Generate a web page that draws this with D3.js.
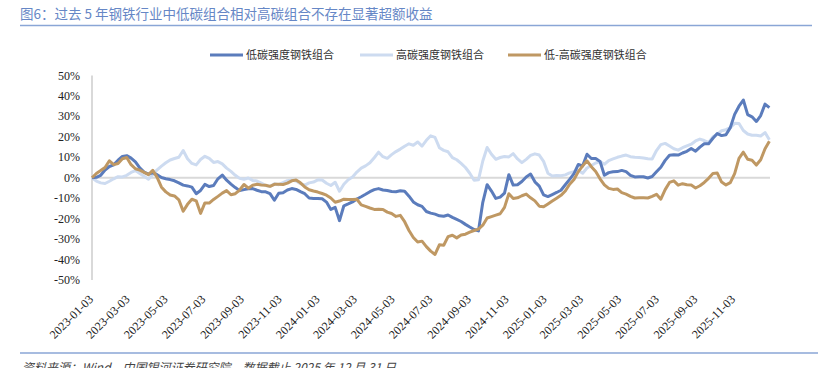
<!DOCTYPE html>
<html>
<head>
<meta charset="utf-8">
<script src="https://cdn.jsdelivr.net/npm/d3@7"></script>
<style>
  html, body { margin: 0; padding: 0; background: #fff; }
  svg { display: block; }
</style>
</head>
<body>
<div id="chart"></div>
<script>
// weekly readings, first point 2023-01-03, 7 days apart (percent)
var startDate = "2023-01-03";
var endDate = "2025-12-31";

var seriesNames = ["低碳强度钢铁组合", "高碳强度钢铁组合", "低-高碳强度钢铁组合"];
var seriesColors = ["#5b7cbc", "#cddbf0", "#bf9863"];

var lowCarbon = [
  0, 0.2, 1.2, 3.8, 5.5, 6.3, 8.6, 10.4, 10.8, 9.6,
  7.8, 4.8, 2.8, 1.8, 2.4, 1.5, 0.1, -0.5, -0.9, -1.5,
  -2.5, -3.6, -4.0, -4.6, -7.8, -6.2, -3.2, -4.3, -3.8, -0.5,
  1.3, -1.2, -3.1, -4.8, -6.3, -5.8, -5.4, -5.3, -6.1, -6.8,
  -6.9, -7.8, -11.0, -7.6, -7.3, -6.0, -5.3, -5.7, -6.8, -7.8,
  -9.9, -10.1, -10.1, -10.3, -11.9, -15.5, -14.5, -21.0, -13.7, -12.8,
  -11.8, -10.4, -9.3, -8.1, -6.8, -5.8, -5.3, -6.0, -6.2, -6.7,
  -6.8, -6.4, -6.6, -9.0, -11.8, -13.2, -14.0, -16.5, -17.3, -17.8,
  -18.6, -18.8, -18.2, -19.4, -20.4, -21.4, -22.8, -24.1, -25.3, -26.0,
  -12.0, -3.4, -6.5, -10.1, -9.5, -7.5, 1.5, -3.6, -3.4, -1.8,
  0.4, 1.8, -2.0, -4.1, -8.4, -9.2, -8.2, -7.2, -6.1, -3.4,
  -0.8, 2.0, 6.5, 5.8, 11.5, 9.4, 9.4, 8.0, 1.2, 2.5,
  2.9, 3.0, 3.6, 3.0, 1.2, 0.4, 0.5, 0.5, -0.1, 0.6,
  2.9, 5.1, 8.5, 11.0, 11.2, 11.1, 12.1, 12.9, 14.3, 13.0,
  15.0, 16.6, 16.6, 19.3, 21.6, 20.6, 21.0, 24.5, 31.0, 35.0,
  38.0, 30.9, 29.8, 27.5, 30.4, 36.0, 34.3
];

var highCarbon = [
  0, -1.6, -2.5, -2.8, -1.7, -0.5, 0.5, 0.4, 1.2, 2.6,
  3.5, 2.1, 0.7, -0.7, 1.5, 3.9, 5.7, 7.3, 8.7, 9.4,
  10.0, 13.3, 9.3, 7.0, 6.3, 8.9, 10.5, 9.5, 7.5, 7.9,
  6.8, 4.7, 3.1, 1.2, -0.3, -0.7, -0.1, -1.3, -1.6, -2.6,
  -3.8, -4.3, -2.9, -3.4, -2.4, -1.4, -1.1, -1.6, -2.9, -3.6,
  -2.5, -2.1, -1.0, -1.1, -2.7, -3.8, -2.2, -6.6, -3.2, -1.0,
  0.4, 2.8, 4.7, 5.8, 7.3, 9.8, 12.5, 10.3, 9.5, 11.3,
  12.8, 14.0, 15.4, 16.6, 15.9, 17.5, 15.5, 18.3, 20.5, 19.7,
  14.7, 13.4, 12.7, 9.8, 8.8, 7.0, 5.0, 2.2, -1.2, -1.0,
  8.2, 14.8, 11.5, 9.0, 9.9, 10.4, 10.2, 11.8, 9.2, 7.4,
  9.0, 10.9, 11.7, 11.1, 8.0, 2.2, 0.9, 1.1, 1.0, 1.4,
  2.4, 3.0, 3.6, 2.2, 4.8, 6.0, 7.2, 7.9, 6.6, 8.4,
  9.2, 10.0, 10.6, 11.1, 10.3, 10.0, 9.9, 9.7, 9.3, 9.2,
  13.3, 16.2, 16.8, 15.5, 14.2, 13.5, 14.7, 15.6, 16.4, 18.0,
  18.9, 18.2, 17.3, 20.0, 21.3, 23.0, 23.5, 24.5, 26.6, 26.5,
  23.1, 21.4, 20.8, 20.8, 20.4, 22.1, 18.6
];

var lowMinusHigh = [
  0, 2.1, 3.5, 5.0, 8.3, 6.4, 7.0, 9.3, 9.9, 6.4,
  4.4, 3.7, 2.6, 1.5, 3.6, 0.2, -4.6, -6.9, -8.4, -8.9,
  -10.8, -16.4, -13.0, -10.5, -11.3, -17.4, -12.3, -12.4, -10.6, -9.1,
  -7.5, -6.3, -8.3, -7.8, -6.0, -3.3, -5.1, -3.7, -3.2, -3.5,
  -3.7, -4.2, -3.2, -3.2, -3.3, -2.6, -1.5, -1.1, -2.5, -4.5,
  -5.9, -6.5, -7.0, -7.7, -8.5, -9.9, -12.0, -11.4, -10.5, -10.6,
  -10.6, -10.5, -13.3, -14.0, -14.8, -15.5, -15.4, -15.5, -16.8, -17.5,
  -18.9, -18.4, -21.5, -25.8, -29.2, -31.4, -31.0, -33.7, -35.9, -37.5,
  -32.8, -33.0, -28.8, -28.1, -29.4, -28.0, -27.6, -26.6, -25.8, -25.1,
  -23.2, -19.7, -19.0, -18.3, -17.6, -14.5, -7.8, -10.1, -9.8, -8.8,
  -8.0, -9.8, -11.3, -13.9, -14.2, -12.8, -11.4, -10.0, -8.6, -6.5,
  -3.2, -0.9, 3.0, 5.8, 8.3, 5.4, 3.1, -0.5, -3.5, -5.2,
  -5.7, -5.5, -7.3, -8.0, -9.1, -9.9, -9.8, -9.8, -9.9, -9.1,
  -8.1, -10.5, -5.8, -2.3, -1.5, -3.6, -2.9, -3.4, -3.6, -5.0,
  -3.9, -2.3, -0.3, 2.1, 2.3, -2.1, -3.5, -2.4, 2.0, 9.5,
  12.5, 9.0, 8.6, 6.2, 8.8, 14.2, 17.8
];

var xTickLabels = [
  "2023-01-03", "2023-03-03", "2023-05-03", "2023-07-03", "2023-09-03", "2023-11-03",
  "2024-01-03", "2024-03-03", "2024-05-03", "2024-07-03", "2024-09-03", "2024-11-03",
  "2025-01-03", "2025-03-03", "2025-05-03", "2025-07-03", "2025-09-03", "2025-11-03"
];
var yTicks = [50, 40, 30, 20, 10, 0, -10, -20, -30, -40, -50];

var width = 818, height = 368;
var plot = {left: 92, right: 770, top: 75.5, bottom: 280};
var parse = d3.timeParse("%Y-%m-%d");
var t0 = parse(startDate);

var dates = lowCarbon.map(function (d, i) {
  return d3.timeDay.offset(t0, i * 7);
});

var svg = d3.select("#chart").append("svg")
  .attr("width", width)
  .attr("height", height)
  .attr("viewBox", [0, 0, width, height]);

var x = d3.scaleTime()
  .domain([t0, parse(endDate)])
  .range([plot.left, plot.right]);

var y = d3.scaleLinear()
  .domain([-50, 50])
  .range([plot.bottom, plot.top]);

// title + rules
svg.append("text")
  .attr("x", 20)
  .attr("y", 19)
  .attr("font-family", "'Noto Sans CJK SC', sans-serif")
  .attr("font-size", 13.5)
  .attr("fill", "#6687c6")
  .text("图6：过去 5 年钢铁行业中低碳组合相对高碳组合不存在显著超额收益");

svg.append("line")
  .attr("x1", 20).attr("x2", 812)
  .attr("y1", 25.5).attr("y2", 25.5)
  .attr("stroke", "#8aa6d6")
  .attr("stroke-width", 1.5);

svg.append("line")
  .attr("x1", 20).attr("x2", 818)
  .attr("y1", 353).attr("y2", 353)
  .attr("stroke", "#8aa6d6")
  .attr("stroke-width", 1.5);

// source note sits on the bottom edge, partly cut like the original
svg.append("text")
  .attr("x", 22)
  .attr("y", 372)
  .attr("font-family", "'Noto Sans CJK SC', sans-serif")
  .attr("font-size", 12)
  .attr("font-style", "italic")
  .attr("fill", "#444")
  .text("资料来源：Wind，中国银河证券研究院，数据截止 2025 年 12 月 31 日");

// legend
var legendX = [210, 360, 508];
var legend = svg.append("g").selectAll("g")
  .data(seriesNames)
  .join("g")
  .attr("transform", function (d, i) {
    return "translate(" + legendX[i] + ",55)";
  });
legend.append("line")
  .attr("x1", 0).attr("x2", 33)
  .attr("stroke", function (d, i) { return seriesColors[i]; })
  .attr("stroke-width", 3);
legend.append("text")
  .attr("x", 36)
  .attr("y", 4)
  .attr("font-family", "'Noto Sans CJK SC', sans-serif")
  .attr("font-size", 11)
  .attr("fill", "#333")
  .text(function (d) { return d; });

// axes
svg.append("line")
  .attr("x1", plot.left).attr("x2", plot.left)
  .attr("y1", y(50)).attr("y2", y(-50))
  .attr("stroke", "#d9d9d9")
  .attr("stroke-width", 2);

svg.append("g").selectAll("text")
  .data(yTicks)
  .join("text")
  .attr("x", 80)
  .attr("y", function (d) { return y(d) + 4; })
  .attr("text-anchor", "end")
  .attr("font-family", "'Liberation Serif', serif")
  .attr("font-size", 12)
  .attr("fill", "#222")
  .text(function (d) { return d + "%"; });

svg.append("g").selectAll("text")
  .data(xTickLabels)
  .join("text")
  .attr("transform", function (d) {
    return "translate(" + (x(parse(d)) + 2) + ",300) rotate(-45)";
  })
  .attr("text-anchor", "end")
  .attr("font-family", "'Liberation Serif', serif")
  .attr("font-size", 12)
  .attr("fill", "#222")
  .text(function (d) { return d; });

// zero line
svg.append("line")
  .attr("x1", plot.left).attr("x2", plot.right)
  .attr("y1", y(0)).attr("y2", y(0))
  .attr("stroke", "#d9d9d9")
  .attr("stroke-width", 2);

// series (light one underneath)
var line = d3.line()
  .x(function (d, i) { return x(dates[i]); })
  .y(function (d) { return y(d); });

var allSeries = [lowCarbon, highCarbon, lowMinusHigh];
[1, 0, 2].forEach(function (s) {
  svg.append("path")
    .datum(allSeries[s])
    .attr("fill", "none")
    .attr("stroke", seriesColors[s])
    .attr("stroke-width", 3)
    .attr("stroke-linejoin", "round")
    .attr("d", line);
});
</script>
</body>
</html>
